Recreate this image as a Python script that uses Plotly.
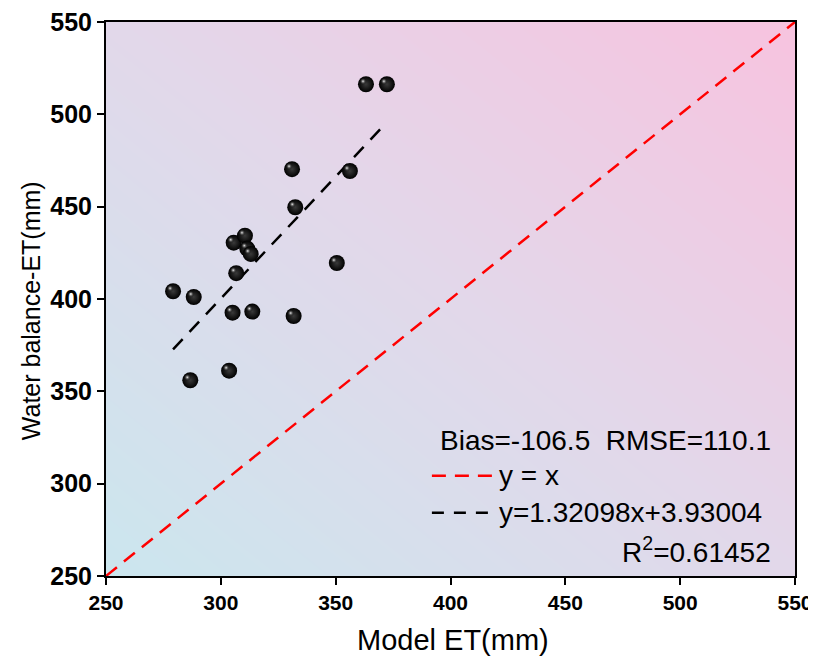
import plotly.graph_objects as go

# Data
model_et = [363.2, 372.3, 331.0, 356.2, 332.4, 305.6, 310.5, 311.5, 313.0, 306.7,
            350.5, 279.2, 288.2, 305.1, 313.7, 331.7, 303.6, 286.7]
wb_et = [516.3, 516.3, 470.3, 469.3, 449.7, 430.5, 434.3, 427.3, 424.4, 414.0,
         419.5, 404.2, 401.1, 392.6, 393.2, 390.8, 361.2, 356.0]
slope = 1.32098
intercept = 3.93004
fit_x = [min(model_et), max(model_et)]
fit_y = [slope * v + intercept for v in fit_x]
axis_range = [250, 550]
tick_vals = [250, 300, 350, 400, 450, 500, 550]
tick_text = ["<b>%d</b>" % v for v in tick_vals]

FONT = "Liberation Sans"

fig = go.Figure()

# gradient background
fig.add_trace(go.Heatmap(
    x=axis_range, y=axis_range, z=[[0, 0.5], [0.5, 1]],
    zsmooth="best", showscale=False, hoverinfo="skip",
    colorscale=[[0, "#cbe6ee"], [0.5, "#e2d8ea"], [1, "#f7c3df"]],
))

# 1:1 line
fig.add_trace(go.Scatter(
    x=axis_range, y=axis_range, mode="lines",
    line=dict(color="#ff0000", width=2.5, dash="14px,9px"),
    showlegend=False, hoverinfo="skip",
))

# fit line
fig.add_trace(go.Scatter(
    x=fit_x, y=fit_y, mode="lines",
    line=dict(color="black", width=2.5, dash="14px,10px"),
    showlegend=False, hoverinfo="skip",
))

# points (dark spheres)
fig.add_trace(go.Scatter(
    x=model_et, y=wb_et, mode="markers",
    marker=dict(size=16, color="black",
                gradient=dict(type="radial", color="#3a3a3a"),
                line=dict(width=0)),
    showlegend=False,
))
# specular highlights, same data drawn on slightly shifted overlay axes
fig.add_trace(go.Scatter(
    x=model_et, y=wb_et, mode="markers", xaxis="x2", yaxis="y2",
    marker=dict(size=7, color="rgba(0,0,0,0)",
                gradient=dict(type="radial", color="#f2f2f2"),
                line=dict(width=0)),
    showlegend=False, hoverinfo="skip",
))

axis_common = dict(
    range=axis_range, tickvals=tick_vals, ticktext=tick_text, showgrid=False, zeroline=False,
    showline=True, linecolor="black", linewidth=2, mirror=True, layer="above traces",
    ticks="outside", ticklen=7, tickwidth=2, tickcolor="black", automargin=False,
    ticklabeloverflow="allow",
)

fig.update_xaxes(**axis_common,
                 tickfont=dict(family=FONT, size=21, color="black"))
fig.update_yaxes(**axis_common,
                 tickfont=dict(family=FONT, size=25, color="black"))

shift_x = 1.3
shift_y = 1.6
fig.update_layout(
    xaxis2=dict(overlaying="x", range=[axis_range[0] + shift_x, axis_range[1] + shift_x],
                visible=False, showgrid=False, zeroline=False),
    yaxis2=dict(overlaying="y", range=[axis_range[0] - shift_y, axis_range[1] - shift_y],
                visible=False, showgrid=False, zeroline=False),
)

# axis titles
fig.add_annotation(text="Water balance-ET(mm)", textangle=-90,
                   xref="paper", yref="y domain", x=0, y=0.478,
                   xanchor="center", yanchor="middle", xshift=-75,
                   showarrow=False, font=dict(family=FONT, size=25, color="black"))
fig.add_annotation(text="Model ET(mm)",
                   xref="x domain", yref="paper", x=0.503, y=0,
                   xanchor="center", yanchor="middle", yshift=-64,
                   showarrow=False, font=dict(family=FONT, size=29, color="black"))

txt_font = dict(family=FONT, size=28, color="black")
anns = [
    dict(text="Bias=-106.5  RMSE=110.1", x=0.968, y=0.245, xanchor="right"),
    dict(text="y = x", x=0.567, y=0.181, xanchor="left"),
    dict(text="y=1.32098x+3.93004", x=0.567, y=0.114, xanchor="left"),
    dict(text="R<sup>2</sup>=0.61452", x=0.968, y=0.047, xanchor="right"),
]
for a in anns:
    fig.add_annotation(xref="x domain", yref="y domain", yanchor="middle",
                       showarrow=False, font=txt_font, **a)

fig.add_shape(type="line", xref="x domain", yref="y domain",
              x0=0.473, x1=0.563, y0=0.181, y1=0.181,
              line=dict(color="#ff0000", width=2.5, dash="14px,9px"))
fig.add_shape(type="line", xref="x domain", yref="y domain",
              x0=0.473, x1=0.563, y0=0.114, y1=0.114,
              line=dict(color="black", width=2.5, dash="12px,10px"))

# the page body adds an 8px offset; the figure is sized to fit inside the window
fig.update_layout(
    width=808, height=648,
    margin=dict(l=98, r=21, t=14, b=80),
    paper_bgcolor="white", plot_bgcolor="white",
    font=dict(family=FONT),
)

fig.write_html("out.html")
